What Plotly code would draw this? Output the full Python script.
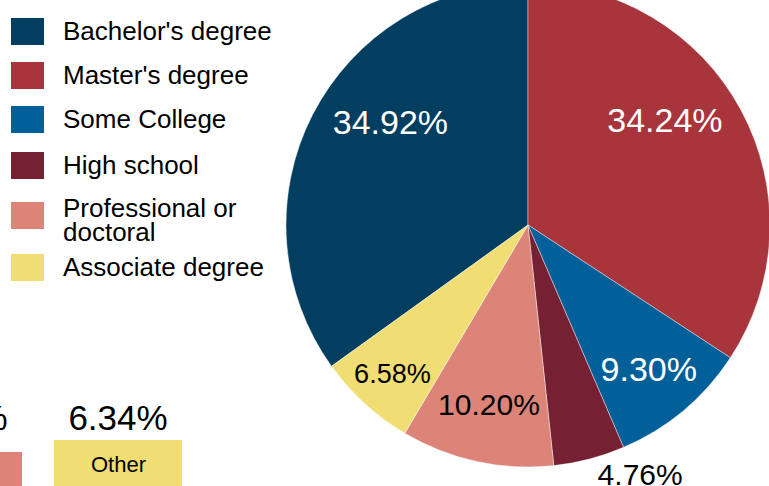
import plotly.graph_objects as go

# ---------------- data ----------------
labels = ["Bachelor's degree", "Master's degree", "Some College", "High school",
          "Professional or doctoral", "Associate degree"]
shares = [34.92, 34.24, 9.30, 4.76, 10.20, 6.58]
colors = ["#023E60", "#A8343C", "#01609A", "#752133", "#DC8477", "#F0DE74"]

# partially visible second chart (bottom left)
other_cats = ["Professional or doctoral", "Other"]
other_values = [5.00, 6.34]
other_colors = ["#DC8477", "#F0DE74"]

# ---------------- layout helpers ----------------
W, H = 771, 503          # figure is shifted up 17px inside the 769x486 window
SHIFT = 17
FONT = "Liberation Sans, Arial, sans-serif"

def py(win_y):           # window pixel y -> paper fraction
    return 1 - (win_y + SHIFT) / H

def px(x):
    return x / W

fig = go.Figure()

NB = "\u00a0"
text_colors = ["white", "white", "white", "black", "black", "black"]
text_pos = ["inside", "inside", "inside", "outside", "inside", "inside"]
text_sizes = [34, 34, 34, 30, 30, 30]
# label placement tweaks (padding) for the two large slices
pad_before = ["", NB * 5, "", "", "", ""]
pad_after = [NB * 5 + "<br>" + NB + "<br>" + NB, "<br>" + NB + "<br>" + NB, "", "", "", ""]
templates = [b + "%{percent:.2%}" + a for b, a in zip(pad_before, pad_after)]

fig.add_trace(go.Pie(
    labels=labels, values=shares, sort=False, direction="clockwise",
    rotation=-360 * shares[0] / sum(shares),
    marker=dict(colors=colors, line=dict(color="rgba(255,255,255,0.7)", width=0.6)),
    texttemplate=templates, textposition=text_pos,
    insidetextorientation="horizontal",
    textfont=dict(family=FONT, size=text_sizes, color=text_colors),
    outsidetextfont=dict(family=FONT, size=30, color="black"),
    domain=dict(x=[px(286), px(770)], y=[1 - 484 / H, 1]),
    showlegend=False, hoverinfo="label+percent",
))

# bottom-left partial bar chart
fig.add_trace(go.Bar(
    x=other_cats, y=other_values, marker=dict(color=other_colors, line=dict(width=0)),
    xaxis="x2", yaxis="y2", showlegend=False, hoverinfo="x+y",
))
label_level = 8.46
fig.add_trace(go.Scatter(
    x=other_cats, y=[label_level] * len(other_cats), mode="text",
    text=[f"{v:.2f}%" for v in other_values], textposition="middle center",
    textfont=dict(family=FONT, size=35, color="black"),
    xaxis="x2", yaxis="y2", showlegend=False, hoverinfo="skip",
))

annotations = [dict(x=other_cats[1], y=3.55, xref="x2", yref="y2", text=other_cats[1],
                    showarrow=False, font=dict(family=FONT, size=22, color="black"),
                    xanchor="center", yanchor="middle")]

# manual legend
sw_tops = [18, 62, 106, 152, 202, 254]
txt_centers = [[31], [75], [119], [165], [207.5, 232.5], [266.5]]
legend_lines = {"Professional or doctoral": ["Professional or", "doctoral"]}
shapes = []
for lab, col, top, cents in zip(labels, colors, sw_tops, txt_centers):
    shapes.append(dict(type="rect", xref="paper", yref="paper",
                       x0=px(11), x1=px(44), y0=py(top + 27), y1=py(top),
                       fillcolor=col, line=dict(width=0)))
    lines = legend_lines.get(lab, [lab])
    for ln, c in zip(lines, cents):
        annotations.append(dict(x=px(63), y=py(c), xref="paper", yref="paper",
                                text=ln, showarrow=False, xanchor="left", yanchor="middle",
                                borderpad=0, borderwidth=0,
                                font=dict(family=FONT, size=26, color="black")))

fig.update_layout(
    width=W, height=H, margin=dict(l=0, r=0, t=0, b=0, pad=0, autoexpand=False),
    paper_bgcolor="white", plot_bgcolor="rgba(0,0,0,0)",
    font=dict(family=FONT, color="black"),
    xaxis2=dict(domain=[0, 0.3], anchor="y2", range=[0.2625, 1.708], visible=False,
                fixedrange=True),
    yaxis2=dict(domain=[0, 0.25], anchor="x2", range=[1.205, 15.24], visible=False,
                fixedrange=True),
    shapes=shapes, annotations=annotations,
)

post = """
document.documentElement.style.overflow='hidden';
document.body.style.margin='0';
document.body.style.overflow='hidden';
var gd=document.getElementById('{plot_id}');
gd.style.position='absolute'; gd.style.left='0px'; gd.style.top='-17px';
"""
fig.write_html("out.html", post_script=post, config={"displayModeBar": False})
